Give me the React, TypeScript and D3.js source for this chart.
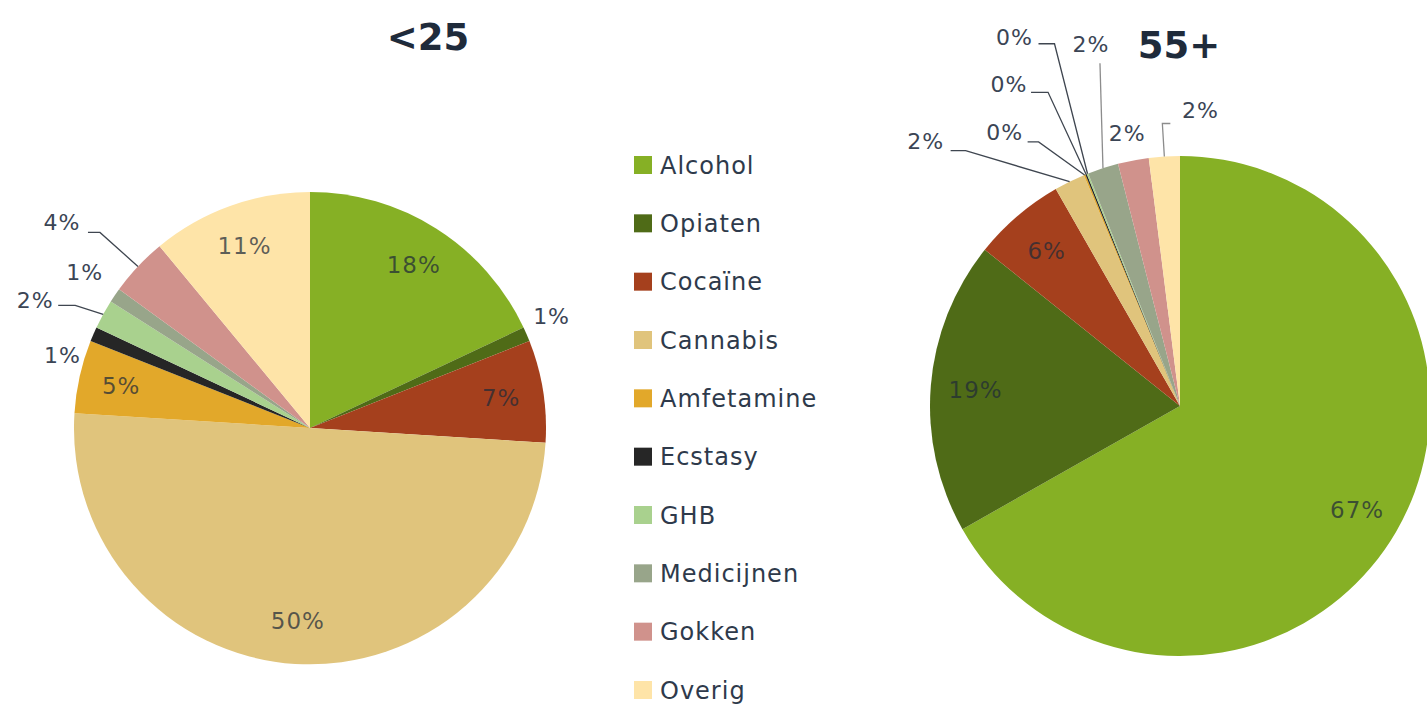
import React from "react";
import * as d3 from "d3";

const categories = ["Alcohol", "Opiaten", "Cocaïne", "Cannabis", "Amfetamine", "Ecstasy", "GHB", "Medicijnen", "Gokken", "Overig"];
const colors = ["#86b025", "#4f6b17", "#a5401d", "#e0c47c", "#e2a82a", "#262626", "#a9d18e", "#98a58a", "#d0928c", "#fee4a8"];
const under25 = [18, 1, 7, 50, 5, 1, 2, 1, 4, 11];
const over55 = [67, 19, 6, 2, 0.1, 0.1, 0.1, 2, 2, 2];
const titles = ["<25", "55+"];

type LabelCfg = { dx: number; dy: number; line?: [number, number, number, number]; lineColor?: string };

const pies = [
  {
    values: under25, title: titles[0], cx: 310, cy: 428, r: 236, tx: 428, ty: 50,
    labels: {
      1: { dx: 25, dy: -18 },
      5: { dx: -31, dy: 21 },
      6: { dx: -68, dy: -14, line: [23, 5, 17, 0] },
      7: { dx: -30, dy: -23 },
      8: { dx: -76, dy: -44, line: [26, 10, 12, 0] },
    } as Record<number, LabelCfg>,
  },
  {
    values: over55, title: titles[1], cx: 1180, cy: 406, r: 250, tx: 1179, ty: 58,
    labels: {
      3: { dx: -144, dy: -41, line: [25, 10, 15, 0] },
      4: { dx: -80, dy: -43, line: [23, 10, 11, 0] },
      5: { dx: -77, dy: -90, line: [22, 8, 17, 0] },
      6: { dx: -73, dy: -137, line: [24, 7, 16, 0] },
      7: { dx: -12, dy: -124, line: [9, 19, 0, 0], lineColor: "#8c8c8c" },
      8: { dx: -6, dy: -27 },
      9: { dx: 36, dy: -46, line: [-30, 13, -8, 0], lineColor: "#8c8c8c" },
    } as Record<number, LabelCfg>,
  },
];

const FONT = "'DejaVu Sans', Verdana, sans-serif";

function Pie({ cfg }: { cfg: (typeof pies)[number] }) {
  const total = d3.sum(cfg.values);
  const arcs = d3.pie<number>().sort(null).value((d) => d)(cfg.values);
  const arc = d3.arc<d3.PieArcDatum<number>>().innerRadius(0).outerRadius(cfg.r);
  const labelArc = d3.arc<d3.PieArcDatum<number>>().innerRadius(cfg.r * 0.82).outerRadius(cfg.r * 0.82);
  const edgeArc = d3.arc<d3.PieArcDatum<number>>().innerRadius(cfg.r).outerRadius(cfg.r);
  return (
    <g>
      <text x={cfg.tx} y={cfg.ty} textAnchor="middle" fontFamily={FONT} fontWeight="bold" fontSize={37} fill="#1f2b3b">
        {cfg.title}
      </text>
      <g transform={`translate(${cfg.cx},${cfg.cy})`}>
        {arcs.map((a, i) => (
          <path key={i} d={arc(a) || ""} fill={colors[i]} />
        ))}
        {arcs.map((a, i) => {
          const txt = Math.round((a.value / total) * 100) + "%";
          const lc = cfg.labels[i];
          if (!lc) {
            const [x, y] = labelArc.centroid(a);
            return (
              <text key={i} x={x} y={y} dy="0.36em" textAnchor="middle" fontFamily={FONT} fontSize={23} letterSpacing={1} fill="#1f2a38" fillOpacity={0.72}>
                {txt}
              </text>
            );
          }
          const [ex, ey] = edgeArc.centroid(a);
          const lx = ex + lc.dx;
          const ly = ey + lc.dy;
          let line = null;
          if (lc.line) {
            const sx = lx + lc.line[0];
            const sy = ly + lc.line[1];
            const mx = sx + lc.line[2];
            const my = sy + lc.line[3];
            line = (
              <polyline points={`${sx},${sy} ${mx},${my} ${ex},${ey}`} fill="none" stroke={lc.lineColor || "#3f4650"} strokeWidth={1.3} />
            );
          }
          return (
            <g key={i}>
              {line}
              <text x={lx} y={ly} dy="0.36em" textAnchor="middle" fontFamily={FONT} fontSize={22} letterSpacing={1} fill="#3b4555">
                {txt}
              </text>
            </g>
          );
        })}
      </g>
    </g>
  );
}

export default function App() {
  const legendY = d3.scalePoint<string>().domain(categories).range([165, 690]);
  return (
    <svg width={1427} height={707} style={{ position: "absolute", left: 0, top: 0, background: "#fff" }}>
      <rect width={1427} height={707} fill="#fff" />
      {pies.map((p, i) => (
        <Pie key={i} cfg={p} />
      ))}
      <g>
        {categories.map((c, i) => (
          <g key={c} transform={`translate(634,${legendY(c)})`}>
            <rect x={0} y={-9} width={18} height={18} fill={colors[i]} />
            <text x={26} y={0} dy="0.36em" fontFamily={FONT} fontSize={24} letterSpacing={1} fill="#2e3a4b">
              {c}
            </text>
          </g>
        ))}
      </g>
    </svg>
  );
}
